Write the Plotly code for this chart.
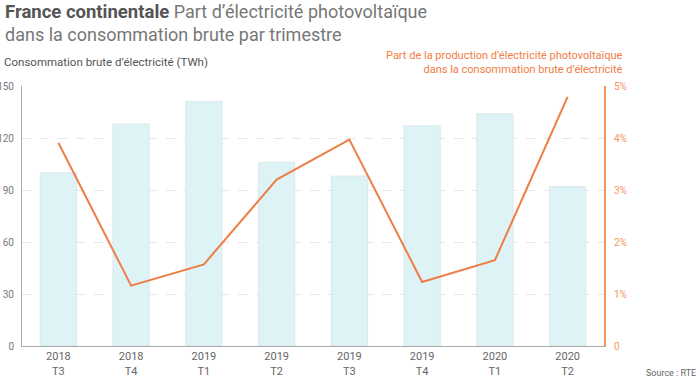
import plotly.graph_objects as go

categories = ["2018<br>T3", "2018<br>T4", "2019<br>T1", "2019<br>T2",
              "2019<br>T3", "2019<br>T4", "2020<br>T1", "2020<br>T2"]
consumption_twh = [100, 128, 141, 106, 98, 127, 134, 92]
pv_share_pct = [3.91, 1.16, 1.57, 3.20, 3.97, 1.23, 1.65, 4.79]
left_ticks = [0, 30, 60, 90, 120, 150]
right_tickvals = [0, 1, 2, 3, 4, 5]
right_ticktext = ["0", "1%", "2%", "3%", "4%", "5%"]

FONT = "Roboto"
ORANGE = "#ef7d45"
ORANGE_AXIS = "#f5945e"

W, H = 700, 379
L, R, T, B = 22, 96, 86, 33

fig = go.Figure()
fig.add_trace(go.Bar(
    x=categories, y=consumption_twh,
    marker=dict(color="#def3f6", line=dict(color="#d0dfe2", width=0.6)),
    width=0.5, yaxis="y", hoverinfo="skip",
))
fig.add_trace(go.Scatter(
    x=categories, y=pv_share_pct, mode="lines",
    line=dict(color=ORANGE, width=2), yaxis="y2", hoverinfo="skip",
))

fig.update_layout(
    width=W, height=H,
    margin=dict(l=L, r=R, t=T, b=B, autoexpand=False),
    paper_bgcolor="white", plot_bgcolor="white",
    showlegend=False,
    font=dict(family=FONT, color="#666"),
    xaxis=dict(
        type="category", showgrid=False, showline=True, linecolor="#aaa",
        linewidth=1, ticks="", tickfont=dict(family=FONT, size=11, color="#666"),
        zeroline=False,
    ),
    yaxis=dict(
        range=[0, 150], tickvals=left_ticks, showline=True, linecolor="#aaa",
        linewidth=1, showgrid=True, gridcolor="#e6e6e6", griddash="dash",
        gridwidth=1, zeroline=False, ticks="", ticklabelstandoff=5,
        tickfont=dict(family=FONT, size=10, color="#777"),
    ),
    yaxis2=dict(
        range=[0, 5], overlaying="y", side="right", tickvals=right_tickvals,
        ticktext=right_ticktext, showline=True, linecolor=ORANGE_AXIS,
        linewidth=2, showgrid=False, zeroline=False, ticks="",
        ticklabelstandoff=6,
        tickfont=dict(family=FONT, size=10, color=ORANGE_AXIS),
    ),
)

def px(x):
    return (x - L) / (W - L - R)

def py(y):
    return (H - B - y) / (H - T - B)

fig.add_annotation(
    text="<b><span style='color:#555;font-size:18.5px'>France continentale</span></b> Part d’électricité photovoltaïque",
    xref="paper", yref="paper", x=px(3), y=py(12), xanchor="left", yanchor="middle",
    showarrow=False, font=dict(family=FONT, size=18, color="#777"),
)
fig.add_annotation(
    text="dans la consommation brute par trimestre",
    xref="paper", yref="paper", x=px(3), y=py(34), xanchor="left", yanchor="middle",
    showarrow=False, font=dict(family=FONT, size=18, color="#777"),
)
fig.add_annotation(
    text="Consommation brute d’électricité (TWh)",
    xref="paper", yref="paper", x=px(2), y=py(62), xanchor="left", yanchor="middle",
    showarrow=False, font=dict(family=FONT, size=11.5, color="#555"),
)
fig.add_annotation(
    text="Part de la production d’électricité photovoltaïque<br>dans la consommation brute d’électricité",
    xref="paper", yref="paper", x=px(625), y=py(62), xanchor="right", yanchor="middle",
    align="right", showarrow=False, font=dict(family=FONT, size=11, color=ORANGE),
)
fig.add_annotation(
    text="Source : RTE",
    xref="paper", yref="paper", x=px(698), y=py(373), xanchor="right", yanchor="middle",
    showarrow=False, font=dict(family=FONT, size=9, color="#666"),
)

fig.write_html("out.html", config={"displayModeBar": False},
               post_script="document.body.style.margin='0';")
